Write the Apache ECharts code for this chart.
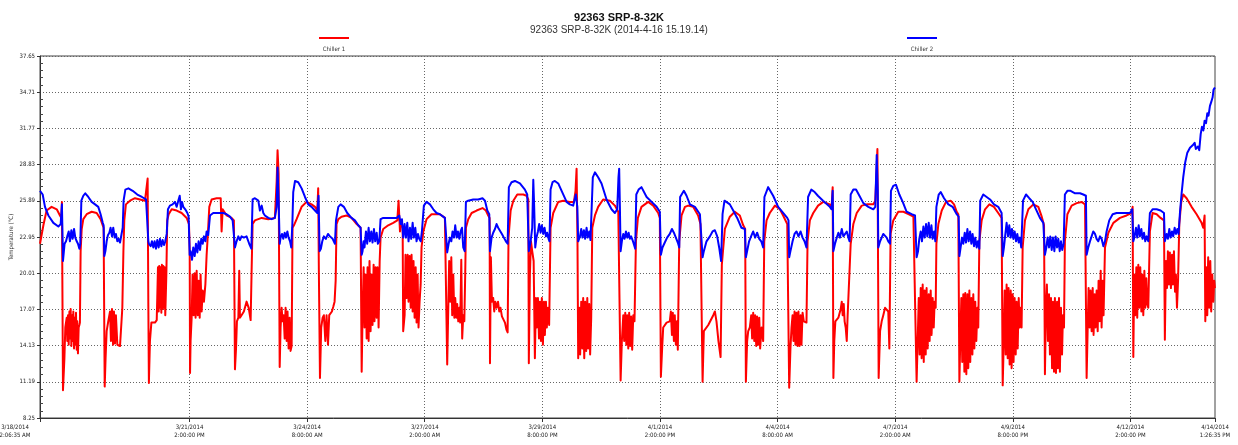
<!DOCTYPE html>
<html>
<head>
<meta charset="utf-8">
<title>92363 SRP-8-32K</title>
<script src="https://cdn.jsdelivr.net/npm/echarts@6/dist/echarts.min.js"></script>
<style>
  html, body { margin: 0; padding: 0; background: #fff; }
  #chart { width: 1238px; height: 445px; }
</style>
</head>
<body>
<div id="chart"></div>
<script>
// tick labels on the time axis (first and last are the ends of the record)
const xTicks = [
  '3/18/2014 2:06:35 AM', '3/21/2014 2:00:00 PM', '3/24/2014 8:00:00 AM',
  '3/27/2014 2:00:00 AM', '3/29/2014 8:00:00 PM', '4/1/2014 2:00:00 PM',
  '4/4/2014 8:00:00 AM', '4/7/2014 2:00:00 AM', '4/9/2014 8:00:00 PM',
  '4/12/2014 2:00:00 PM', '4/14/2014 1:26:35 PM'
];
const yTicks = [8.25, 11.19, 14.13, 17.07, 20.01, 22.95, 25.89, 28.83, 31.77, 34.71, 37.65];

// [hours since first sample, temperature °C]
const chiller1 = [
  [0,22.4],[1.9,23.9],[3.7,25.1],[6.5,25.4],[9.4,25.2],[11.2,24.7],[12.0,24.5],[12.3,25.8],[12.9,10.5],
  [13.7,13.1],[14.2,15.6],[15.0,16.4],[15.3,14.5],[15.7,16.6],[16.1,14.2],[16.5,16.9],[16.8,14.7],[17.2,17.1],[17.6,14.1],[18.0,16.6],[18.3,14.5],[18.7,16.9],[19.1,13.9],[19.4,16.4],[19.8,14.2],[20.2,16.8],[20.6,13.8],[20.9,16.1],[21.3,13.5],[21.7,15.6],[22.1,15.8],[22.4,16.0],[22.8,21.8],[23.4,23.6],[24.3,24.4],[26.2,24.8],[29.0,25.0],[31.8,24.9],[34.0,24.4],[35.2,23.9],[35.7,23.7],
  [36.3,10.8],[36.8,13.1],[37.4,15.3],[38.3,16.1],[39.3,16.9],[39.8,14.5],[40.4,17.1],[41.0,14.2],[41.5,16.9],[42.1,14.3],[42.6,16.6],[43.4,14.2],[44.1,14.1],[44.9,14.1],[45.6,14.2],[46.2,17.2],[46.8,21.8],[47.3,24.3],[48.2,25.6],[50.5,25.9],[53.3,26.1],[56.1,26.0],[58.9,25.9],[59.8,25.8],[60.4,27.7],[60.8,17.2],[61.1,11.1],
  [61.7,14.5],[62.5,16.0],[63.6,16.1],[64.5,16.0],[65.5,16.2],[65.8,18.0],[66.2,20.5],[66.6,16.9],[66.9,20.6],[67.3,17.2],[67.7,20.5],[68.1,16.8],[68.4,20.7],[68.8,17.1],[69.2,20.6],[69.6,17.2],[69.9,20.5],[70.3,16.6],[70.9,19.9],[71.4,24.3],[72.2,24.8],[73.9,25.2],[76.7,25.1],[79.5,24.9],[82.3,24.5],[83.6,24.0],
  [84.0,21.8],[84.2,11.9],[84.5,14.5],[85.1,16.4],[85.6,19.9],[86.2,16.6],[86.8,20.0],[87.3,16.4],[87.9,20.2],[88.5,16.6],[89.0,19.4],[89.6,16.4],[90.1,19.9],[90.7,16.9],[91.3,18.6],[92.0,17.7],[92.8,19.1],[93.5,21.5],[94.2,23.2],[95.0,25.4],[96.3,26.0],[99.1,26.1],[101.4,26.1],[101.9,23.4],[102.5,25.2],[104.7,24.7],[107.5,24.5],[108.8,24.3],
  [109.4,12.2],[110.0,13.9],[110.5,16.1],[111.3,16.4],[111.8,20.2],[112.2,16.4],[113.1,16.6],[114.4,16.9],[115.9,17.7],[117.1,17.2],[118.2,16.2],[118.7,19.9],[119.3,24.0],[120.6,24.3],[124.4,24.5],[128.1,24.4],[131.8,24.5],[132.8,27.5],[133.3,30.0],[133.9,28.1],[134.5,12.4],
  [135.0,15.6],[135.6,17.2],[136.1,16.1],[136.7,16.6],[137.3,14.7],[137.8,17.2],[138.4,14.5],[138.9,16.9],[139.5,13.9],[140.1,16.4],[140.6,13.7],[141.2,14.1],[141.7,23.7],[142.5,23.9],[144.0,24.4],[146.8,25.4],[149.6,25.8],[152.4,25.6],[154.3,25.4],[155.6,25.1],[156.1,26.9],[156.5,19.9],[157.1,11.5],
  [157.8,15.6],[158.6,16.4],[159.3,16.6],[160.1,14.5],[160.8,16.6],[161.6,14.2],[162.3,16.6],[163.1,16.5],[163.8,16.9],[164.6,17.3],[165.3,17.7],[165.9,19.4],[166.4,24.0],[167.4,24.4],[169.2,24.6],[172.0,24.7],[174.8,24.5],[177.7,24.0],[179.9,23.7],[180.5,12.0],
  [181.0,16.6],[181.6,20.5],[182.1,15.6],[182.7,19.9],[183.3,14.7],[183.8,20.5],[184.4,14.5],[184.9,21.0],[185.5,15.3],[186.1,19.9],[186.6,15.8],[187.2,20.7],[187.7,16.1],[188.3,20.5],[188.9,16.4],[189.4,20.5],[190.0,15.6],[190.6,21.0],[191.1,22.9],[192.6,23.6],[195.4,23.9],[198.2,24.1],[200.5,24.3],[201.2,25.9],[202.0,23.4],[202.7,24.3],[203.5,23.7],[203.8,15.3],
  [204.6,16.6],[205.1,21.5],[205.7,18.0],[206.3,21.5],[206.8,17.7],[207.4,21.4],[208.0,17.2],[208.5,21.5],[209.1,16.9],[209.6,21.0],[210.2,16.4],[210.8,20.5],[211.3,16.0],[211.9,19.9],[212.4,15.6],[213.0,17.7],[213.6,19.1],[214.1,22.1],[215.1,23.4],[216.9,24.4],[219.7,24.8],[222.5,24.8],[224.4,24.8],[227.2,24.5],[228.2,24.4],
  [228.5,12.6],[229.1,17.2],[229.6,21.0],[230.2,17.7],[230.8,21.3],[231.3,16.6],[231.9,19.9],[232.5,16.4],[233.0,18.0],[233.6,16.4],[234.1,17.5],[234.7,16.1],[235.3,17.2],[235.8,16.0],[236.4,21.1],[236.9,14.7],[237.5,16.6],[238.1,16.1],[238.6,19.9],[239.0,23.7],[240.3,24.4],[242.2,24.9],[245.0,25.1],[248.3,25.3],[250.2,25.1],[251.5,24.7],[252.3,24.5],[252.5,12.7],
  [253.0,21.3],[253.6,17.7],[254.3,18.0],[254.9,16.9],[255.5,17.7],[256.2,17.2],[257.0,17.7],[257.7,16.9],[258.4,17.2],[259.2,16.5],[259.9,16.6],[260.9,16.0],[261.8,15.4],[262.4,15.2],[262.9,22.9],[264.1,25.1],[265.6,25.9],[267.8,26.4],[271.2,26.4],[273.0,26.3],[274.0,26.0],[274.3,12.7],
  [274.9,19.9],[275.5,22.6],[276.2,21.8],[277.0,21.0],[277.7,13.1],[278.3,18.0],[278.8,15.6],[279.4,18.0],[280.0,14.7],[280.5,17.7],[281.1,14.5],[281.6,18.0],[282.2,14.2],[282.8,17.7],[283.3,15.0],[283.9,17.7],[284.4,15.6],[285.0,17.2],[285.7,15.8],[286.5,23.7],[288.0,24.9],[290.8,25.8],[293.6,25.9],[297.3,25.8],[299.6,25.8],[300.5,26.7],[301.1,28.5],[301.6,22.6],[302.0,13.1],
  [302.6,17.2],[303.1,13.4],[303.7,17.7],[304.3,13.9],[304.8,18.0],[305.4,13.1],[305.9,17.7],[306.5,13.7],[307.1,18.0],[307.6,13.9],[308.2,17.5],[308.7,13.4],[309.3,16.4],[309.9,23.7],[311.4,24.7],[313.2,25.4],[316.0,26.0],[319.8,25.9],[322.6,25.5],[324.5,25.0],[325.4,24.9],[325.8,11.3],
  [326.5,14.5],[327.3,16.6],[327.8,14.5],[328.4,16.8],[329.0,14.2],[329.5,16.6],[330.1,13.9],[330.6,16.8],[331.2,14.1],[331.7,16.5],[332.3,13.8],[332.9,16.6],[333.6,16.1],[334.4,22.6],[335.5,24.5],[337.5,25.4],[341.3,25.8],[344.1,25.5],[346.9,24.9],[347.8,24.5],[348.4,11.6],
  [349.1,13.9],[349.7,15.6],[351.6,16.0],[353.4,16.1],[354.0,16.9],[354.6,15.0],[355.1,16.8],[355.7,14.5],[356.2,16.6],[356.8,14.2],[357.4,16.1],[357.9,13.8],[358.7,22.6],[360.0,24.7],[361.9,25.4],[363.7,25.5],[366.5,25.4],[369.3,24.7],[370.6,24.0],[371.8,11.2],
  [372.5,15.3],[375.0,15.8],[377.8,16.6],[378.7,16.9],[379.6,16.1],[380.7,14.5],[381.9,13.2],[382.6,20.7],[384.3,23.6],[387.1,24.6],[389.9,25.0],[392.7,24.7],[394.6,23.9],[395.7,23.6],[396.1,11.2],
  [396.8,14.5],[397.4,15.3],[398.3,15.6],[399.1,16.6],[399.6,14.7],[400.2,16.8],[400.8,14.5],[401.3,16.6],[401.9,14.1],[402.4,16.5],[403.0,14.2],[403.6,16.4],[404.1,13.9],[404.9,15.6],[405.8,14.5],[406.4,22.6],[407.7,24.3],[409.5,24.9],[412.4,25.5],[415.2,25.2],[417.0,24.7],[419.3,24.0],[420.0,23.9],[420.4,10.7],
  [421.1,13.9],[421.7,15.6],[422.3,16.6],[422.8,14.5],[423.4,16.9],[423.9,14.2],[424.5,16.8],[425.1,14.1],[425.6,16.9],[426.2,14.1],[426.8,16.6],[427.3,14.2],[427.9,16.8],[428.6,16.1],[430.1,16.0],[430.7,22.6],[432.0,24.3],[433.9,24.9],[436.6,25.5],[439.5,25.8],[443.2,25.6],[444.2,25.4],[444.8,27.0],[445.2,11.5],
  [445.7,14.5],[446.3,16.1],[448.0,16.4],[449.3,17.1],[449.9,17.7],[450.4,16.6],[451.0,17.5],[451.5,16.1],[452.1,15.6],[452.7,14.5],[453.2,16.6],[454.2,16.5],[454.9,22.4],[456.4,24.0],[458.3,24.9],[461.1,25.5],[463.9,25.6],[467.6,25.6],[468.7,25.9],[469.5,28.6],[469.9,30.1],[470.2,22.6],[470.6,11.5],
  [471.4,15.3],[472.3,16.1],[473.2,16.6],[474.2,17.2],[475.1,17.1],[476.0,16.9],[476.6,13.9],[477.3,23.2],[478.8,24.3],[481.6,25.0],[484.5,25.0],[487.3,24.8],[490.1,24.6],[491.2,24.5],[491.9,11.2],
  [492.5,14.5],[493.1,18.0],[493.6,13.4],[494.2,18.8],[494.7,13.1],[495.3,19.1],[495.9,12.8],[496.4,18.6],[497.0,13.4],[497.5,18.8],[498.1,13.9],[498.7,18.3],[499.2,14.5],[499.8,18.6],[500.3,15.0],[500.9,18.0],[501.5,15.6],[502.0,17.7],[502.6,17.2],[503.0,22.4],[504.1,24.0],[506.0,25.1],[508.4,25.8],[511.0,25.9],[512.9,25.6],[514.4,25.0],[515.3,24.8],[515.9,11.2],
  [516.4,14.5],[517.0,18.0],[517.5,12.8],[518.1,18.3],[518.7,12.0],[519.2,18.4],[519.8,11.8],[520.4,18.3],[520.9,12.3],[521.5,18.6],[522.0,12.8],[522.6,18.0],[523.2,13.4],[523.7,18.3],[524.3,13.9],[524.8,17.7],[525.4,14.5],[526.0,17.2],[526.5,15.6],[527.1,22.6],[528.4,24.3],[530.3,25.2],[532.7,25.6],[535.3,25.4],[537.7,24.9],[539.6,24.5],[540.2,10.9],
  [540.7,13.9],[541.3,18.6],[541.9,13.4],[542.4,19.1],[543.0,13.1],[543.5,18.8],[544.1,12.6],[544.7,18.6],[545.2,12.3],[545.8,18.3],[546.3,12.8],[546.9,18.0],[547.5,13.4],[548.0,17.7],[548.6,13.9],[549.2,18.0],[549.7,15.6],[550.3,17.2],[550.8,15.6],[551.4,22.1],[552.7,24.3],[554.6,25.2],[557.4,25.6],[560.2,25.4],[562.1,24.6],[563.4,23.9],[563.9,11.8],
  [564.5,17.2],[565.0,19.1],[565.6,14.5],[566.2,18.3],[566.7,13.4],[567.3,18.0],[567.9,12.3],[568.4,17.7],[569.0,12.0],[569.5,18.0],[570.1,11.9],[570.7,17.7],[571.2,12.3],[571.8,18.0],[572.3,12.0],[572.9,17.2],[573.5,13.4],[574.0,16.6],[574.6,15.6],[575.1,22.6],[576.5,24.8],[578.9,25.5],[581.7,25.7],[584.5,25.8],[586.4,25.6],[587.3,11.5],
  [587.9,15.6],[588.4,18.8],[589.0,15.6],[589.5,18.6],[590.1,15.3],[590.7,18.8],[591.2,15.0],[591.8,18.3],[592.3,15.6],[592.9,18.6],[593.5,15.3],[594.0,19.4],[594.6,16.1],[595.2,20.2],[595.7,15.6],[596.3,19.4],[596.8,16.6],[597.6,22.1],[599.5,23.3],[602.3,24.1],[606.0,24.5],[609.7,24.7],[612.5,24.9],[613.1,25.4],[613.5,13.2],
  [614.0,19.9],[614.6,16.6],[615.2,20.5],[615.7,16.4],[616.3,20.7],[616.8,17.2],[617.4,20.5],[618.0,16.9],[618.5,19.9],[619.1,16.6],[619.7,20.2],[620.2,17.2],[620.8,19.6],[621.3,17.5],[621.9,17.2],[622.8,23.4],[624.3,24.9],[626.6,24.8],[628.8,24.5],[630.7,24.3],[631.2,14.6],
  [631.8,21.0],[632.4,18.8],[632.9,21.8],[633.5,19.1],[634.0,21.7],[634.6,18.8],[635.2,21.5],[635.7,19.1],[636.3,21.8],[636.9,18.5],[637.4,19.9],[638.0,17.2],[638.6,19.4],[639.3,24.0],[640.4,25.8],[641.5,26.4],[643.4,26.1],[646.2,25.4],[649.0,24.8],[651.8,24.1],[652.7,23.7],[653.5,24.7],[653.9,16.1],[654.4,20.5],[655.0,16.6],[655.5,21.3],[656.1,17.2],[656.7,21.0],[657.2,16.9],[657.8,19.9],[658.4,17.7],[658.9,19.4],[659.3,18.8]
];

const chiller2 = [
  [0,26.7],[1.5,26.4],[2.8,25.4],[4.7,24.7],[7.5,24.1],[10.3,23.8],[11.6,24.0],[12.3,25.6],[12.9,21.0],
  [13.8,22.4],[14.6,22.6],[15.3,23.0],[16.1,23.4],[16.8,22.6],[17.6,23.5],[18.3,22.8],[19.1,23.6],[19.8,22.9],[20.6,22.6],[21.3,22.4],[22.1,22.0],[22.6,22.4],[23.2,25.9],[24.3,26.3],[25.4,26.5],[27.1,26.2],[29.0,25.8],[30.9,25.6],[32.7,25.4],[34.0,24.8],[35.2,24.1],[35.7,23.9],[36.1,21.4],
  [36.7,21.8],[37.4,22.6],[38.1,23.1],[38.9,23.3],[39.6,23.7],[40.4,23.0],[41.1,23.7],[41.9,22.9],[42.6,23.2],[43.4,22.6],[44.1,22.8],[44.9,22.5],[45.6,22.6],[46.4,23.7],[46.9,25.9],[47.9,26.8],[49.6,26.9],[52.0,26.7],[54.6,26.4],[57.2,26.2],[59.5,26.0],[60.2,26.0],[60.8,22.6],[61.1,22.4],
  [62.1,22.2],[62.8,22.6],[63.6,22.1],[64.3,22.6],[65.1,22.0],[65.8,22.7],[66.6,22.1],[67.3,22.8],[68.1,22.2],[68.8,22.7],[69.6,22.3],[70.3,22.6],[71.1,23.2],[71.8,25.2],[72.9,25.5],[74.4,25.6],[75.7,25.8],[76.7,25.4],[77.6,25.9],[78.4,26.3],[79.1,25.2],[79.7,25.8],[80.4,25.4],[81.5,25.2],[82.7,24.9],[83.4,24.6],[84.0,21.5],
  [84.5,21.8],[85.3,21.1],[86.0,22.1],[86.8,21.4],[87.5,22.4],[88.3,21.7],[89.0,22.6],[89.8,21.9],[90.5,22.8],[91.3,22.4],[92.0,23.0],[92.8,22.6],[93.5,23.4],[94.4,23.1],[95.4,24.7],[97.2,24.9],[100.0,24.9],[102.9,24.9],[104.7,24.8],[106.6,24.6],[108.1,24.3],[108.8,24.3],[109.4,22.1],
  [110.3,22.6],[111.3,23.0],[112.2,22.7],[113.1,23.0],[114.4,22.9],[115.9,23.0],[117.4,22.4],[118.6,22.0],[119.3,26.0],[120.6,26.1],[122.5,25.9],[123.4,25.1],[124.4,25.5],[125.3,24.9],[126.2,24.7],[128.1,24.5],[130.0,24.4],[131.8,24.5],[132.8,25.4],[133.3,28.6],[133.9,25.9],[134.5,22.4],
  [135.0,22.9],[135.8,23.2],[136.5,22.8],[137.3,23.3],[138.0,22.9],[138.8,23.4],[139.5,22.9],[140.3,22.6],[141.0,22.1],[141.6,24.0],[142.1,26.6],[143.1,27.5],[144.9,27.4],[146.8,26.9],[148.7,26.2],[150.5,25.6],[152.4,25.4],[154.3,25.1],[155.6,24.9],[156.3,26.3],[156.9,21.8],
  [157.6,22.0],[158.4,22.6],[159.3,23.0],[160.4,22.8],[161.6,23.2],[162.7,23.0],[164.2,22.8],[165.5,22.4],[166.1,24.3],[167.4,25.4],[168.7,25.6],[170.5,25.4],[172.4,24.9],[174.8,24.5],[176.7,24.3],[178.6,23.9],[179.9,23.7],[180.5,21.5],
  [181.0,21.8],[181.6,22.6],[182.1,22.1],[182.9,23.4],[183.6,22.4],[184.4,23.7],[185.1,22.6],[185.9,23.4],[186.6,22.5],[187.4,23.6],[188.1,22.6],[188.9,23.3],[189.6,22.4],[190.4,22.6],[191.1,24.4],[192.6,24.5],[195.4,24.5],[198.2,24.5],[200.1,24.5],[201.6,24.7],[202.4,24.0],[203.1,24.4],[203.8,22.9],
  [204.6,24.0],[205.3,22.9],[206.1,24.1],[206.8,22.6],[207.6,23.7],[208.3,22.8],[209.1,24.1],[209.8,22.9],[210.6,23.7],[211.3,22.6],[212.1,23.2],[212.8,22.8],[213.6,22.6],[214.3,23.4],[215.4,25.5],[216.9,25.8],[218.8,25.6],[220.7,25.2],[222.5,24.9],[224.4,24.8],[227.2,24.5],[228.2,24.4],[228.5,21.7],
  [229.3,22.4],[230.0,22.9],[230.8,22.6],[231.5,23.4],[232.3,22.9],[233.0,23.9],[233.8,22.9],[234.5,23.4],[235.3,22.8],[236.0,23.4],[236.8,23.7],[237.5,22.1],[238.3,21.8],[239.0,25.8],[240.3,25.9],[243.1,26.0],[245.9,26.0],[248.3,26.1],[249.7,25.9],[251.0,25.1],[252.1,24.8],[252.5,21.8],
  [253.4,22.9],[254.3,23.3],[255.3,23.6],[256.2,24.0],[257.1,23.7],[258.1,23.6],[259.2,23.2],[260.3,22.9],[261.4,22.6],[262.4,22.4],[263.1,27.0],[264.6,27.4],[266.5,27.5],[269.3,27.3],[272.1,26.8],[273.4,26.4],[274.3,21.8],
  [275.3,22.6],[276.2,23.7],[276.8,27.6],[277.3,25.4],[277.9,22.1],[278.6,22.9],[279.4,23.4],[280.1,24.0],[280.9,23.3],[281.6,23.9],[282.4,23.2],[283.1,23.7],[283.9,23.0],[284.6,23.3],[285.4,22.8],[285.9,22.6],[286.5,26.8],[287.6,27.4],[288.9,27.5],[290.8,27.3],[292.7,26.7],[295.5,25.8],[297.3,25.6],[299.2,25.5],[300.3,25.6],[300.7,26.4],[301.5,25.4],[302.0,22.6],
  [303.0,23.0],[303.7,23.6],[304.4,22.9],[305.2,23.5],[305.9,22.8],[306.7,23.7],[307.4,22.9],[308.2,23.4],[308.9,22.7],[309.7,22.6],[310.2,27.8],[311.4,28.2],[313.2,27.8],[315.1,27.3],[317.9,26.0],[320.7,25.2],[322.6,24.9],[323.9,25.2],[324.6,27.8],[325.0,28.5],[325.4,25.4],[325.8,21.8],
  [326.5,22.6],[327.3,23.2],[328.0,22.8],[328.8,23.4],[329.5,22.9],[330.3,23.3],[331.0,22.8],[331.7,23.0],[332.5,22.7],[333.2,22.6],[334.0,22.0],[334.6,26.4],[335.9,26.8],[337.5,27.0],[340.4,26.2],[343.2,25.8],[346.0,25.4],[347.8,25.0],[348.4,21.5],
  [349.3,22.1],[350.6,22.5],[351.9,22.9],[353.4,23.2],[354.6,23.6],[355.7,23.3],[356.8,22.9],[357.9,22.5],[358.7,22.1],[359.2,26.2],[361.3,26.7],[362.8,26.3],[364.7,25.6],[367.5,25.4],[370.3,24.8],[371.4,24.7],[371.8,21.3],
  [372.5,21.8],[374.0,22.6],[375.9,23.0],[377.4,23.4],[378.7,23.5],[380.0,23.0],[381.1,22.1],[382.2,21.0],[383.0,24.8],[384.1,25.9],[385.2,26.0],[387.1,25.6],[389.0,25.1],[391.2,24.5],[393.6,23.7],[395.5,23.6],[396.1,21.3],
  [396.8,21.8],[397.9,22.6],[399.0,23.0],[400.2,23.4],[401.3,22.9],[402.4,23.3],[403.6,22.8],[404.7,22.6],[405.8,22.1],[406.5,26.2],[408.6,27.0],[411.4,26.3],[414.2,25.4],[417.0,24.9],[419.3,24.5],[420.0,24.3],[420.4,21.3],
  [421.1,21.8],[422.3,22.6],[423.4,23.2],[424.5,23.4],[425.6,23.0],[426.8,23.4],[427.9,22.9],[429.0,22.6],[430.1,22.1],[431.0,26.2],[432.8,26.8],[434.7,26.6],[436.5,26.3],[439.4,25.9],[443.2,25.4],[444.2,25.2],[444.8,26.7],[445.2,21.8],
  [446.1,22.4],[447.1,22.9],[448.0,23.3],[448.9,22.9],[449.9,23.6],[450.8,23.0],[451.7,22.9],[452.7,23.4],[453.6,22.9],[454.3,22.6],[454.9,26.4],[456.4,26.8],[457.9,26.8],[459.8,26.3],[462.0,25.7],[464.8,25.4],[467.6,25.2],[468.7,25.4],[469.5,29.6],[470.1,26.7],[470.4,22.1],
  [471.4,22.6],[472.3,22.9],[473.2,23.2],[474.2,23.3],[475.1,22.9],[476.0,22.6],[477.0,22.4],[477.5,26.7],[478.8,27.1],[480.3,27.2],[482.2,26.4],[484.1,25.8],[486.3,25.0],[489.1,24.8],[491.0,24.7],[491.9,21.3],
  [492.7,21.8],[493.4,22.8],[494.2,23.4],[494.9,22.6],[495.7,23.8],[496.4,22.9],[497.2,24.0],[497.9,23.0],[498.7,24.1],[499.4,22.9],[500.2,23.9],[500.9,22.8],[501.7,23.4],[502.4,22.6],[503.0,25.4],[504.3,26.4],[505.4,26.6],[507.3,26.1],[509.7,25.6],[512.1,25.4],[514.4,24.8],[515.5,24.6],[515.9,21.4],
  [516.6,22.1],[517.4,22.9],[518.1,22.4],[518.9,23.3],[519.6,22.5],[520.4,23.6],[521.1,22.6],[521.9,23.4],[522.6,22.4],[523.3,23.2],[524.1,22.2],[524.8,22.9],[525.6,22.1],[526.3,22.6],[527.1,22.0],[527.6,25.9],[529.3,26.4],[531.2,26.2],[533.1,26.0],[535.3,25.6],[537.7,25.4],[539.6,24.9],[540.2,21.4],
  [540.9,22.1],[541.7,23.2],[542.4,24.1],[543.2,23.0],[543.9,23.9],[544.7,22.9],[545.4,23.6],[546.2,22.8],[546.9,23.4],[547.7,22.6],[548.4,23.2],[549.2,22.5],[549.9,22.9],[550.6,22.1],[551.6,25.9],[553.3,26.4],[555.1,26.1],[557.0,25.8],[558.9,25.2],[561.1,24.5],[563.0,24.1],[563.9,21.5],
  [564.7,22.1],[565.4,22.9],[566.2,22.1],[566.9,23.0],[567.7,21.9],[568.4,22.9],[569.2,21.8],[569.9,23.0],[570.7,22.1],[571.4,22.8],[572.2,21.8],[572.9,22.6],[573.6,21.9],[574.4,22.4],[575.1,26.4],[576.5,26.7],[578.3,26.7],[580.8,26.5],[583.6,26.5],[585.4,26.4],[586.9,26.3],[587.3,21.5],
  [588.2,22.1],[589.2,22.6],[590.1,23.0],[591.0,23.4],[592.0,23.2],[592.9,22.8],[593.8,22.6],[594.8,23.0],[595.7,22.8],[596.7,22.2],[597.6,22.6],[598.5,23.4],[600.0,24.3],[601.9,24.8],[604.1,24.9],[607.9,24.9],[611.6,24.9],[612.9,25.2],[613.5,22.6],
  [614.2,23.0],[615.0,23.7],[615.7,22.9],[616.5,23.9],[617.2,23.0],[618.0,23.6],[618.7,22.8],[619.5,23.3],[620.2,22.6],[621.0,23.0],[621.9,22.6],[622.8,24.9],[624.3,25.2],[626.6,25.2],[628.8,25.1],[630.7,24.9],[631.2,22.6],
  [632.2,23.2],[632.9,22.8],[633.7,23.6],[634.4,22.9],[635.2,23.4],[635.9,23.0],[636.7,23.7],[637.4,23.2],[638.2,23.6],[638.9,23.2],[639.7,25.0],[640.6,26.5],[641.5,27.8],[642.6,29.0],[643.8,29.8],[645.3,30.2],[646.8,30.4],[647.9,30.6],[648.6,30.1],[649.8,30.3],[650.5,30.0],[651.3,31.3],[652.0,31.9],[652.8,31.6],[653.5,32.4],[654.3,32.2],[655.0,33.0],[655.7,32.8],[656.5,33.6],[657.2,33.9],[658.0,34.3],[658.5,34.9],[659.3,35.1]
];

const smallFont = "'DejaVu Sans Condensed', 'DejaVu Sans', sans-serif";

// "3/21/2014 2:00:00 PM" -> ms (UTC so the page does not depend on timezone)
function parseStamp(s) {
  const [d, t, ap] = s.split(' ');
  const [mo, day, yr] = d.split('/').map(Number);
  let [h, mi, se] = t.split(':').map(Number);
  h = h % 12 + (ap === 'PM' ? 12 : 0);
  return Date.UTC(yr, mo - 1, day, h, mi, se);
}

const tickMs = xTicks.map(parseStamp);
const t0 = tickMs[0];
const tEnd = tickMs[tickMs.length - 1];
const yStep = +(yTicks[1] - yTicks[0]).toFixed(2);

const toSeries = arr => arr.map(p => [t0 + p[0] * 3600000, p[1]]);

function xLabel(v) {
  let idx = 0;
  tickMs.forEach((m, i) => { if (Math.abs(m - v) < Math.abs(tickMs[idx] - v)) idx = i; });
  const parts = xTicks[idx].split(' ');
  const date = parts[0], time = parts[1] + ' ' + parts[2];
  if (idx === 0) return '{first|' + date + '}\n{first|' + time + '}';
  return date + '\n' + time;
}

const chart = echarts.init(document.getElementById('chart'));

const option = {
  animation: false,
  backgroundColor: '#fff',
  title: {
    text: '92363 SRP-8-32K',
    subtext: '92363 SRP-8-32K (2014-4-16 15.19.14)',
    left: 'center',
    top: 7,
    itemGap: 2,
    textStyle: { fontFamily: 'Liberation Sans', fontSize: 11, fontWeight: 'bold', color: '#111' },
    subtextStyle: { fontFamily: 'Liberation Sans', fontSize: 10, color: '#333' }
  },
  graphic: [
    { type: 'line', shape: { x1: 319, y1: 38, x2: 349, y2: 38 }, style: { stroke: '#ff0000', lineWidth: 2 } },
    { type: 'text', x: 334, y: 49, style: { text: 'Chiller 1', fontSize: 6, fontFamily: smallFont, fill: '#333', align: 'center', verticalAlign: 'middle', textAlign: 'center', textVerticalAlign: 'middle' } },
    { type: 'line', shape: { x1: 907, y1: 38, x2: 937, y2: 38 }, style: { stroke: '#0000ff', lineWidth: 2 } },
    { type: 'text', x: 922, y: 49, style: { text: 'Chiller 2', fontSize: 6, fontFamily: smallFont, fill: '#333', align: 'center', verticalAlign: 'middle', textAlign: 'center', textVerticalAlign: 'middle' } }
  ],
  grid: {
    left: 40, right: 23, top: 56, bottom: 27,
    outerBoundsMode: 'none',
    containLabel: false,
    show: true, borderColor: '#444', borderWidth: 1
  },
  xAxis: {
    type: 'value',
    min: t0,
    max: tEnd,
    axisLine: { show: true, lineStyle: { color: '#333' } },
    axisTick: { show: true, customValues: tickMs, length: 4, lineStyle: { color: '#333' } },
    axisLabel: {
      customValues: tickMs,
      formatter: xLabel,
      fontFamily: smallFont,
      fontSize: 6,
      lineHeight: 8,
      color: '#222',
      margin: 5,
      rich: {
        first: { fontFamily: smallFont, fontSize: 6, lineHeight: 8, color: '#222', padding: [0, 50, 0, 0] }
      }
    },
    splitLine: {
      show: true, showMinLine: false, showMaxLine: false,
      lineStyle: { color: '#666', type: [1, 2], width: 1 }
    }
  },
  yAxis: [
    {
      type: 'value',
      min: yTicks[0],
      max: yTicks[yTicks.length - 1],
      interval: yStep,
      name: 'Temperature (°C)',
      nameLocation: 'middle',
      nameGap: 26,
      nameMoveOverlap: false,
      nameTextStyle: { fontFamily: smallFont, fontSize: 6, color: '#333' },
      axisLine: { show: true, lineStyle: { color: '#333' } },
      axisTick: { show: true, length: 3, lineStyle: { color: '#333' } },
      axisLabel: { fontFamily: smallFont, fontSize: 6, color: '#222', margin: 5, formatter: v => v.toFixed(2) },
      splitLine: { show: true, lineStyle: { color: '#666', type: [1, 2], width: 1 } }
    },
    {
      // second copy only to draw the small inward ticks
      type: 'value',
      position: 'left',
      min: yTicks[0],
      max: yTicks[yTicks.length - 1],
      interval: yStep,
      axisLine: { show: false },
      axisTick: { show: false, inside: true },
      axisLabel: { show: false },
      splitLine: { show: false },
      minorTick: { show: true, splitNumber: 5, length: 3, lineStyle: { color: '#444' } }
    }
  ],
  series: [
    {
      name: 'Chiller 1',
      type: 'line',
      data: toSeries(chiller1),
      showSymbol: false,
      silent: true,
      lineStyle: { color: '#ff0000', width: 2, join: 'round' },
      itemStyle: { color: '#ff0000' }
    },
    {
      name: 'Chiller 2',
      type: 'line',
      data: toSeries(chiller2),
      showSymbol: false,
      silent: true,
      lineStyle: { color: '#0000ff', width: 2, join: 'round' },
      itemStyle: { color: '#0000ff' }
    }
  ]
};

chart.setOption(option);
</script>
</body>
</html>
